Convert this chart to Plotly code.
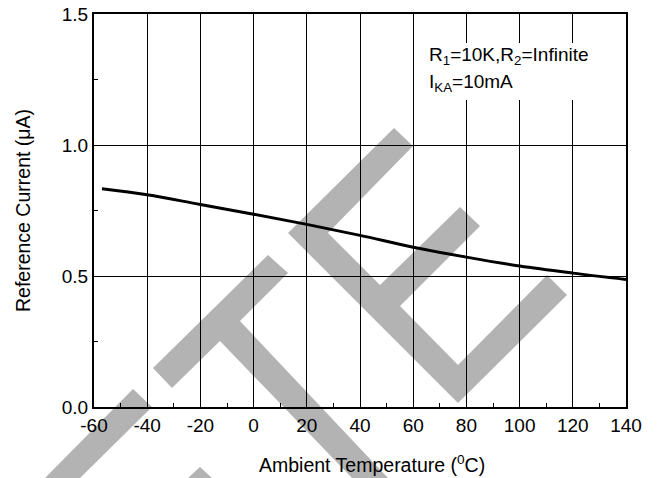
import plotly.graph_objects as go

# ---- data ----
temperature_c = [-57, -40, -20, 0, 20, 40, 60, 80, 100, 120, 140]
reference_current_ua = [0.833, 0.810, 0.773, 0.736, 0.697, 0.655, 0.610, 0.572, 0.538, 0.511, 0.487]

x_ticks = [-60, -40, -20, 0, 20, 40, 60, 80, 100, 120, 140]
y_ticks = [0.0, 0.5, 1.0, 1.5]

x_title = "Ambient Temperature (<sup>0</sup>C)"
y_title = "Reference Current (\u03bcA)"
note_line1 = "R<sub>1</sub>=10K,R<sub>2</sub>=Infinite"
note_line2 = "I<sub>KA</sub>=10mA"

# ---- layout geometry (pixels) ----
W, H = 659, 478
L, R, T, B = 94, 33, 14, 71
PW, PH = W - L - R, H - T - B


def px(xp, yp):
    return (xp - L) / PW, (H - B - yp) / PH


def poly(points):
    pts = [px(a, b) for a, b in points]
    return "M " + " L ".join(f"{a:.4f},{b:.4f}" for a, b in pts) + " Z"


# watermark letters (decorative, pixel outlines)
wm_E = [(394, 128), (413, 146), (328, 233), (380, 285), (460, 207), (480, 226),
        (400, 306), (458, 365), (547, 275), (567, 295), (458, 403), (288, 233)]
wm_T = [(153, 368), (268, 255), (288, 273), (240, 321), (388, 478), (352, 478),
        (220, 341), (172, 388)]
wm_bar = [(45, 478), (133, 389), (152, 407), (80, 478)]
wm_peak = [(188, 478), (200, 467), (212, 478)]

FONT = "Arial, Liberation Sans, sans-serif"
FS = 19

fig = go.Figure()
fig.add_trace(go.Scatter(
    x=temperature_c, y=reference_current_ua, mode="lines",
    line=dict(color="black", width=3, shape="spline"),
    showlegend=False, hoverinfo="skip",
))

shapes = []
for p in (wm_E, wm_T, wm_bar, wm_peak):
    shapes.append(dict(type="path", path=poly(p), xref="paper", yref="paper",
                       fillcolor="#b3b3b3", line=dict(width=0), layer="below"))
x0, y0 = px(420, 100)
x1, y1 = px(600, 43)
shapes.append(dict(type="rect", xref="paper", yref="paper", x0=x0, x1=x1, y0=y0, y1=y1,
                   fillcolor="white", line=dict(width=0), layer="above"))

ax1, ay1 = px(427, 42)
ax2, ay2 = px(427, 69)
tx, ty = px(372, 464)

fig.update_layout(
    width=W, height=H,
    margin=dict(l=L, r=R, t=T, b=B),
    paper_bgcolor="white", plot_bgcolor="white",
    font=dict(family=FONT, size=FS, color="black"),
    shapes=shapes,
    annotations=[
        dict(text=note_line1, x=ax1, y=ay1, xref="paper", yref="paper",
             xanchor="left", yanchor="top", showarrow=False,
             font=dict(family=FONT, size=FS, color="black")),
        dict(text=note_line2, x=ax2, y=ay2, xref="paper", yref="paper",
             xanchor="left", yanchor="top", showarrow=False,
             font=dict(family=FONT, size=FS, color="black")),
        dict(text=x_title, x=tx, y=ty, xref="paper", yref="paper",
             xanchor="center", yanchor="middle", showarrow=False,
             font=dict(family=FONT, size=19.5, color="black")),
    ],
    xaxis=dict(
        range=[-60, 140], tickvals=x_ticks, ticktext=[str(v) for v in x_ticks],
        showgrid=True, gridcolor="black", gridwidth=1,
        showline=True, linecolor="black", linewidth=2, mirror=True,
        ticks="inside", ticklen=5, tickcolor="black",
        minor=dict(dtick=10, ticks="inside", ticklen=4, tickcolor="black", showgrid=False),
        zeroline=False, automargin=False,
        tickfont=dict(family=FONT, size=FS),
    ),
    yaxis=dict(
        range=[0, 1.5], tickvals=y_ticks, ticktext=[f"{v:.1f}" for v in y_ticks],
        showgrid=True, gridcolor="black", gridwidth=1,
        showline=True, linecolor="black", linewidth=2, mirror=True,
        ticks="inside", ticklen=5, tickcolor="black",
        minor=dict(dtick=0.25, ticks="inside", ticklen=4, tickcolor="black", showgrid=False),
        zeroline=False, automargin=False,
        title=dict(text=y_title, font=dict(family=FONT, size=19.5), standoff=26),
        tickfont=dict(family=FONT, size=FS),
    ),
)

fig.write_html("out.html", config={"displayModeBar": False},
               post_script="document.body.style.margin='0';")
